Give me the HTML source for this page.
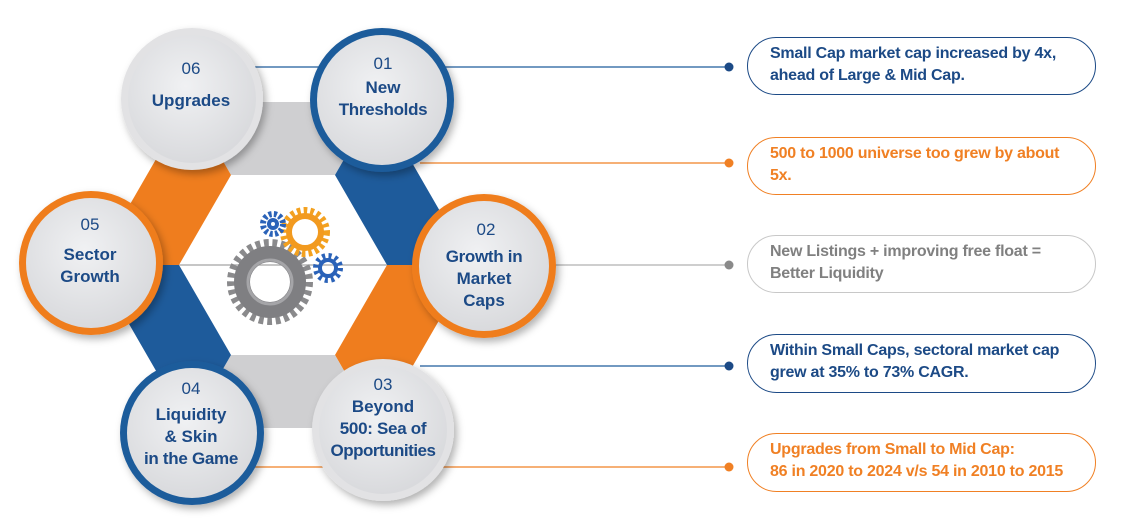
<!DOCTYPE html>
<html><head><meta charset="utf-8"><style>
body{margin:0;background:#fff;width:1123px;height:521px;overflow:hidden;position:relative;font-family:"Liberation Sans",sans-serif}
.box{position:absolute;left:747px;width:349px;height:56px;border:1.5px solid;border-radius:30px;box-sizing:border-box;padding:5px 0 0 22px;font-weight:bold;font-size:16px;line-height:22px;letter-spacing:-0.25px}
</style></head><body>
<svg width="1123" height="521" style="position:absolute;left:0;top:0">
<defs>
<radialGradient id="cg" cx="0.45" cy="0.4" r="0.6"><stop offset="0" stop-color="#f0f1f3"/><stop offset="1" stop-color="#d9dadd"/></radialGradient>
<filter id="sh" x="-30%" y="-30%" width="160%" height="160%"><feDropShadow dx="3" dy="4" stdDeviation="4" flood-color="#000" flood-opacity="0.3"/></filter>
</defs>
<line x1="255" y1="67" x2="729" y2="67" stroke="#1f5c9c" stroke-width="1.2"/>
<line x1="420" y1="163" x2="729" y2="163" stroke="#f08024" stroke-width="1.2"/>
<line x1="150" y1="265" x2="729" y2="265" stroke="#b0b0b0" stroke-width="1.2"/>
<line x1="420" y1="366" x2="729" y2="366" stroke="#1f5c9c" stroke-width="1.2"/>
<line x1="255" y1="467" x2="729" y2="467" stroke="#f08024" stroke-width="1.2"/>
<circle cx="729" cy="67" r="4.5" fill="#1c4a86"/>
<circle cx="729" cy="163" r="4.5" fill="#f08024"/>
<circle cx="729" cy="265" r="4.5" fill="#8a8a8a"/>
<circle cx="729" cy="366" r="4.5" fill="#1c4a86"/>
<circle cx="729" cy="467" r="4.5" fill="#f08024"/>
<polygon points="189,102 377,102 335,175 231,175" fill="#cfcfd1"/>
<polygon points="377,102 471,265 387,265 335,175" fill="#1e5b9b"/>
<polygon points="471,265 377,428 335,355 387,265" fill="#ef7d1e"/>
<polygon points="377,428 189,428 231,355 335,355" fill="#cfcfd1"/>
<polygon points="189,428 95,265 179,265 231,355" fill="#1e5b9b"/>
<polygon points="95,265 189,102 231,175 179,265" fill="#ef7d1e"/>
<line x1="179" y1="265" x2="387" y2="265" stroke="#b0b0b0" stroke-width="1.2"/>
<g>
<circle cx="270" cy="282" r="36" fill="none" stroke="#8a8a8c" stroke-width="14" stroke-dasharray="4.4 3.4"/>
<circle cx="270" cy="282" r="28" fill="none" stroke="#7f7f82" stroke-width="16"/>
<circle cx="270" cy="282" r="22" fill="none" stroke="#a5a5a8" stroke-width="3"/>
<circle cx="305" cy="232" r="21" fill="none" stroke="#f3a11f" stroke-width="8" stroke-dasharray="3.5 3"/>
<circle cx="305" cy="232" r="16" fill="none" stroke="#f29a1f" stroke-width="6"/>
<circle cx="273" cy="224" r="10" fill="none" stroke="#2a62b8" stroke-width="6" stroke-dasharray="3 2.3"/>
<circle cx="273" cy="224" r="6" fill="#2a62b8"/><circle cx="273" cy="224" r="2" fill="#fff"/>
<circle cx="328" cy="268" r="12" fill="none" stroke="#2a62b8" stroke-width="6" stroke-dasharray="3 3.3"/>
<circle cx="328" cy="268" r="8" fill="none" stroke="#2a62b8" stroke-width="4"/>
</g>
<g filter="url(#sh)">
<circle cx="192" cy="99" r="71" fill="#e2e2e4"/>
<circle cx="382" cy="100" r="72" fill="#1e5b9b"/>
<circle cx="484" cy="266" r="72" fill="#ef7d1e"/>
<circle cx="91" cy="263" r="72" fill="#ef7d1e"/>
<circle cx="192" cy="433" r="72" fill="#1e5b9b"/>
<circle cx="383" cy="430" r="71" fill="#e2e2e4"/>
</g>
<circle cx="192" cy="99" r="64" fill="url(#cg)"/>
<circle cx="382" cy="100" r="65" fill="url(#cg)"/>
<circle cx="484" cy="266" r="65" fill="url(#cg)"/>
<circle cx="91" cy="263" r="65" fill="url(#cg)"/>
<circle cx="192" cy="433" r="65" fill="url(#cg)"/>
<circle cx="383" cy="430" r="64" fill="url(#cg)"/>
<g font-family="Liberation Sans, sans-serif" font-size="17" fill="#1c4a86" text-anchor="middle">
<text x="191" y="74" font-size="17">06</text>
<text x="191" y="106" font-weight="bold">Upgrades</text>
<text x="383" y="69">01</text>
<text x="383" y="93" font-weight="bold">New</text>
<text x="383" y="115" font-weight="bold" letter-spacing="-0.3">Thresholds</text>
<text x="486" y="235">02</text>
<text x="484" y="262" font-weight="bold" letter-spacing="-0.3">Growth in</text>
<text x="484" y="284" font-weight="bold">Market</text>
<text x="484" y="306" font-weight="bold">Caps</text>
<text x="90" y="230">05</text>
<text x="90" y="260" font-weight="bold">Sector</text>
<text x="90" y="282" font-weight="bold">Growth</text>
<text x="191" y="394">04</text>
<text x="191" y="420" font-weight="bold">Liquidity</text>
<text x="191" y="442" font-weight="bold">&amp; Skin</text>
<text x="191" y="464" font-weight="bold" letter-spacing="-0.3">in the Game</text>
<text x="383" y="390">03</text>
<text x="383" y="412" font-weight="bold">Beyond</text>
<text x="383" y="434" font-weight="bold" letter-spacing="-0.3">500: Sea of</text>
<text x="383" y="456" font-weight="bold" letter-spacing="-0.5">Opportunities</text>
</g>
</svg>
<div class="box" style="top:37px;height:58px;border-color:#1c4a86;color:#1c4a86">Small Cap market cap increased by 4x,<br>ahead of Large &amp; Mid Cap.</div>
<div class="box" style="top:137px;height:58px;border-color:#f08024;color:#f08024">500 to 1000 universe too grew by about<br>5x.</div>
<div class="box" style="top:235px;height:58px;border-color:#c8c8c8;color:#808080">New Listings + improving free float =<br>Better Liquidity</div>
<div class="box" style="top:334px;height:59px;border-color:#1c4a86;color:#1c4a86">Within Small Caps, sectoral market cap<br>grew at 35% to 73% CAGR.</div>
<div class="box" style="top:433px;height:59px;border-color:#f08024;color:#f08024">Upgrades from Small to Mid Cap:<br>86 in 2020 to 2024 v/s 54 in 2010 to 2015</div>
</body></html>
